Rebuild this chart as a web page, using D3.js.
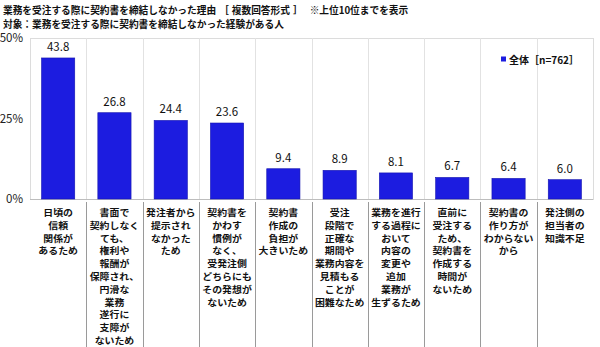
<!DOCTYPE html>
<html>
<head>
<meta charset="utf-8">
<script src="https://cdn.jsdelivr.net/npm/d3@7"></script>
<style>
  html, body { margin: 0; padding: 0; background: #fff; }
  svg { display: block; }
  text { font-family: "Noto Sans CJK JP", "Noto Sans", sans-serif; }
</style>
</head>
<body>
<svg id="chart" width="600" height="347"></svg>
<script>
// Reasons (line-broken as printed under each bar)
const categories = [
  ["日頃の", "信頼", "関係が", "あるため"],
  ["書面で", "契約しなく", "ても、", "権利や", "報酬が", "保障され、", "円滑な", "業務", "遂行に", "支障が", "ないため"],
  ["発注者から", "提示され", "なかった", "ため"],
  ["契約書を", "かわす", "慣例が", "なく、", "受発注側", "どちらにも", "その発想が", "ないため"],
  ["契約書", "作成の", "負担が", "大きいため"],
  ["受注", "段階で", "正確な", "期間や", "業務内容を", "見積もる", "ことが", "困難なため"],
  ["業務を進行", "する過程に", "おいて", "内容の", "変更や", "追加", "業務が", "生ずるため"],
  ["直前に", "受注する", "ため、", "契約書を", "作成する", "時間が", "ないため"],
  ["契約書の", "作り方が", "わからない", "から"],
  ["発注側の", "担当者の", "知識不足"]
];
const values = [43.8, 26.8, 24.4, 23.6, 9.4, 8.9, 8.1, 6.7, 6.4, 6.0];
const yTicks = [0, 25, 50];
const seriesName = "全体［n=762］";
// Title pieces with the gap drawn before each piece
const titleLine1 = [
  { t: "業務を受注する際に契約書を締結しなかった理由", dx: 0 },
  { t: "［", dx: 3 },
  { t: "複数回答形式", dx: 3 },
  { t: "］", dx: 3 },
  { t: "※上位10位までを表示", dx: 7 }
];
const titleLine2 = "対象：業務を受注する際に契約書を締結しなかった経験がある人";

const svg = d3.select("#chart");
const W = 600, H = 347;
const plot = { left: 30, right: 593, top: 38, bottom: 199 };

const x = d3.scaleBand()
  .domain(d3.range(values.length))
  .range([plot.left, plot.right])
  .paddingInner(0)
  .paddingOuter(0);

const y = d3.scaleLinear().domain([0, 50]).range([plot.bottom, plot.top]);

// Title
const t1 = svg.append("text")
  .attr("x", 3).attr("y", 14)
  .attr("font-size", 9.7).attr("font-weight", 700).attr("fill", "#111");
t1.selectAll("tspan").data(titleLine1).join("tspan")
  .attr("dx", d => d.dx)
  .text(d => d.t);
svg.append("text")
  .attr("x", 3).attr("y", 28)
  .attr("font-size", 9.7).attr("font-weight", 700).attr("fill", "#111")
  .text(titleLine2);

// Plot frame and vertical separators
const g = svg.append("g");
g.append("rect")
  .attr("x", plot.left + 0.5).attr("y", plot.top + 0.5)
  .attr("width", plot.right - plot.left).attr("height", plot.bottom - plot.top)
  .attr("fill", "none").attr("stroke", "#dcdcdc").attr("stroke-width", 1);

g.selectAll("line.vgrid")
  .data(d3.range(1, values.length))
  .join("line")
  .attr("class", "vgrid")
  .attr("x1", i => Math.round(x(i)) + 0.5).attr("x2", i => Math.round(x(i)) + 0.5)
  .attr("y1", plot.top).attr("y2", plot.bottom)
  .attr("stroke", "#e2e2e2");

// Separators in the label area
g.selectAll("line.lsep")
  .data(d3.range(1, values.length))
  .join("line")
  .attr("class", "lsep")
  .attr("x1", i => Math.round(x(i)) + 0.5).attr("x2", i => Math.round(x(i)) + 0.5)
  .attr("y1", plot.bottom + 3).attr("y2", H)
  .attr("stroke", "#9a9a9a");

// Baseline
g.append("line")
  .attr("x1", plot.left).attr("x2", plot.right)
  .attr("y1", plot.bottom + 0.5).attr("y2", plot.bottom + 0.5)
  .attr("stroke", "#bdbdbd");

// Y axis tick labels
const yAxis = d3.axisLeft(y)
  .tickValues(yTicks)
  .tickFormat(d => d + "%")
  .tickSize(0)
  .tickPadding(6);
const ya = svg.append("g")
  .attr("transform", `translate(${plot.left - 1},0)`)
  .call(yAxis);
ya.select(".domain").remove();
ya.selectAll("text")
  .attr("font-family", "Arial, 'Liberation Sans', sans-serif")
  .attr("font-size", 11.5)
  .attr("fill", "#222");

// Bars
const barW = x.bandwidth() * 0.59;
g.selectAll("rect.bar")
  .data(values)
  .join("rect")
  .attr("class", "bar")
  .attr("x", (d, i) => x(i) + (x.bandwidth() - barW) / 2)
  .attr("y", d => y(d))
  .attr("width", barW)
  .attr("height", d => y(0) - y(d))
  .attr("fill", "#1c1ce0")
  .attr("stroke", "#1515b0")
  .attr("stroke-width", 0.6);

// Value labels
g.selectAll("text.val")
  .data(values)
  .join("text")
  .attr("class", "val")
  .attr("x", (d, i) => x(i) + x.bandwidth() / 2)
  .attr("y", d => y(d) - 7)
  .attr("text-anchor", "middle")
  .attr("font-family", "Arial, 'Liberation Sans', sans-serif")
  .attr("font-size", 11.5)
  .attr("fill", "#111")
  .text(d => d.toFixed(1));

// Category labels: wide, compact gothic lines
const lineStep = 12.8;
const catG = g.selectAll("g.cat")
  .data(categories)
  .join("g")
  .attr("class", "cat")
  .attr("transform", (d, i) => `translate(${x(i) + x.bandwidth() / 2},0) scale(1.14,1)`);
catG.selectAll("text")
  .data(d => d)
  .join("text")
  .attr("x", 0)
  .attr("y", (d, j) => 216 + j * lineStep)
  .attr("text-anchor", "middle")
  .attr("font-size", 8.7)
  .attr("font-weight", 700)
  .attr("fill", "#111")
  .text(d => d);

// Legend
const lg = svg.append("g").attr("transform", "translate(501,55)");
lg.append("rect").attr("x", 0).attr("y", 1.5).attr("width", 5).attr("height", 5).attr("fill", "#1c1ce0");
lg.append("text")
  .attr("x", 8).attr("y", 8.5)
  .attr("font-size", 10)
  .attr("font-weight", 700)
  .attr("fill", "#111")
  .text(seriesName);
</script>
</body>
</html>
